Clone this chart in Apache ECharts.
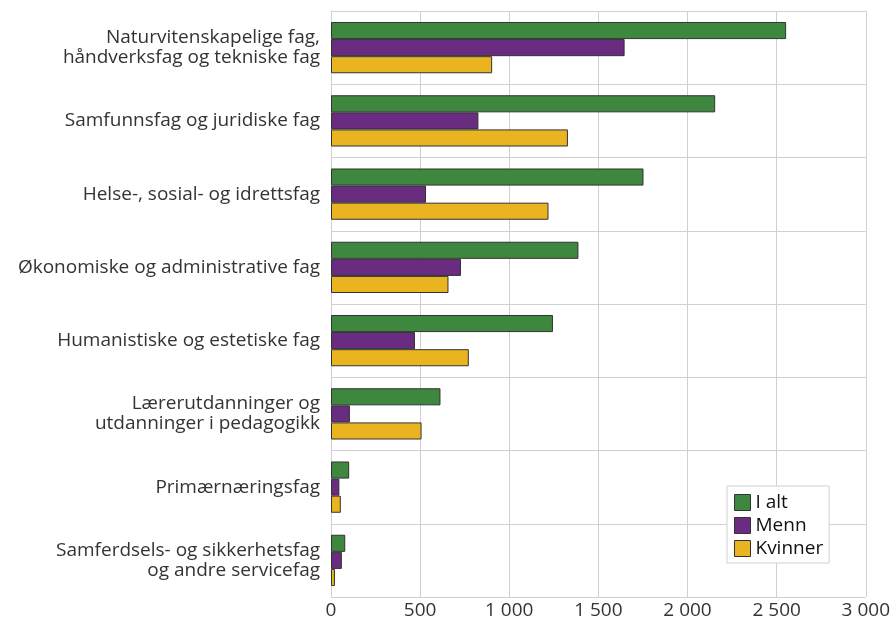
<!DOCTYPE html>
<html>
<head>
<meta charset="utf-8">
<script src="https://cdn.jsdelivr.net/npm/echarts@6/dist/echarts.min.js"></script>
<style>html,body{margin:0;padding:0;background:#fff}#c{width:893px;height:621px}</style>
</head>
<body>
<div id="c"></div>
<script>
const categories = [
  "Naturvitenskapelige fag,\nhåndverksfag og tekniske fag",
  "Samfunnsfag og juridiske fag",
  "Helse-, sosial- og idrettsfag",
  "Økonomiske og administrative fag",
  "Humanistiske og estetiske fag",
  "Lærerutdanninger og\nutdanninger i pedagogikk",
  "Primærnæringsfag",
  "Samferdsels- og sikkerhetsfag\nog andre servicefag"
];
const iAlt =    [2553, 2155, 1753, 1388, 1245, 614, 102, 80];
const menn =    [1647,  827,  533,  729,  471, 106,  47, 61];
const kvinner = [ 904, 1329, 1220,  659,  773, 508,  55, 22];
const seriesNames = ["I alt", "Menn", "Kvinner"];
const colors = ["#3e873f", "#692c80", "#e9b41f"];

const chart = echarts.init(document.getElementById('c'));
const font = "'Open Sans', sans-serif";
const mk = (name, data, i) => ({
  name, type: 'bar', data,
  barGap: '0%', barCategoryGap: '30%',
  itemStyle: { color: colors[i], borderColor: '#333', borderWidth: 1 },
  emphasis: { disabled: true }
});
chart.setOption({
  animation: false,
  textStyle: { fontFamily: font },
  grid: { left: 331, right: 25, top: 11, bottom: 24, containLabel: false },
  legend: {
    orient: 'vertical', left: 727, top: 486,
    backgroundColor: '#fff', borderColor: '#d0d0d0', borderWidth: 1,
    padding: [7, 6, 5, 7], itemGap: 4, itemWidth: 16, itemHeight: 16, itemTextGap: 4,
    icon: 'rect',
    itemStyle: { borderColor: '#333', borderWidth: 1 },
    textStyle: { fontSize: 19, color: '#111', fontFamily: font },
    data: seriesNames
  },
  xAxis: {
    type: 'value', min: 0, max: 3000, interval: 500,
    axisLine: { show: false }, axisTick: { show: false },
    splitLine: { lineStyle: { color: '#d0d0d0', width: 1 } },
    axisLabel: {
      fontSize: 19, color: '#333', margin: 4, fontFamily: font,
      formatter: v => String(v).replace(/\B(?=(\d{3})+(?!\d))/g, '\u00a0')
    }
  },
  yAxis: {
    type: 'category', data: categories, inverse: true,
    axisLine: { show: true, lineStyle: { color: '#d0d0d0' } },
    axisTick: { show: false },
    splitLine: { show: true, lineStyle: { color: '#d0d0d0', width: 1 } },
    axisLabel: { fontSize: 19, color: '#333', margin: 11, lineHeight: 20, align: 'right', fontFamily: font }
  },
  series: [mk(seriesNames[0], iAlt, 0), mk(seriesNames[1], menn, 1), mk(seriesNames[2], kvinner, 2)]
});
</script>
</body>
</html>
